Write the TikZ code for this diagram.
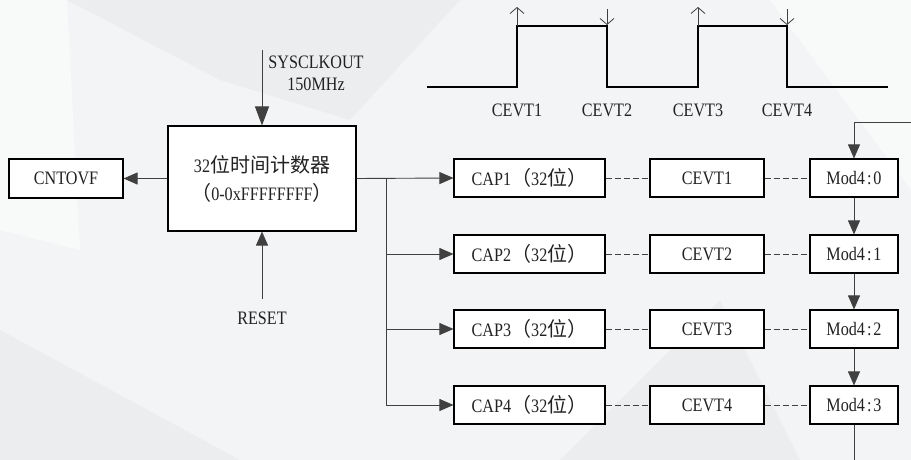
\documentclass[tikz,border=0pt]{standalone}
\usepackage{fontspec}
\setmainfont[FakeStretch=0.85]{Liberation Serif}
\newfontfamily\cjk{Noto Sans CJK SC}
\usetikzlibrary{arrows.meta}
\newcommand\zh[1]{{\cjk\fontsize{20}{27}\selectfont #1}}
\newcommand\mcol{\kern2pt:\kern2pt}
\definecolor{bgbase}{HTML}{F3F4F5}
\definecolor{bgdark}{HTML}{ECEDEF}
\definecolor{bglight}{HTML}{F8F9F9}
\definecolor{linec}{HTML}{404040}
\definecolor{txtc}{HTML}{222222}
\tikzset{
  box/.style={draw=black, line width=1.1pt, fill=white, minimum height=38pt, inner sep=0pt,
              font=\fontsize{19}{27}\selectfont, text=txtc},
  lbl/.style={inner sep=0pt, font=\fontsize{19}{22}\selectfont, text=txtc, align=center},
  conn/.style={draw=linec, line width=0.9pt},
  arr/.style={conn, -{Triangle[length=14pt,width=12pt]}},
  arrlong/.style={conn, -{Triangle[length=19pt,width=14pt]}},
  dsh/.style={conn, dash pattern=on 6pt off 3pt},
  edgearr/.style={draw=linec, line width=0.8pt, -{Straight Barb[length=6pt,width=14pt]}},
  wave/.style={draw=black, line width=1.8pt, line join=miter}
}
\begin{document}
\begin{tikzpicture}[x=1pt,y=-1pt]
\useasboundingbox (0,0) rectangle (911,460);
% background
\fill[bgbase] (0,0) rectangle (911,460);
\fill[bgdark] (67,0) -- (460,0) -- (350,120) -- (220,80) -- cycle;
\fill[bglight] (0,0) -- (67,0) -- (80,250) -- (0,230) -- cycle;
\fill[bglight] (770,0) -- (911,0) -- (911,190) -- cycle;
\fill[bgdark] (0,330) -- (240,460) -- (0,460) -- cycle;
\fill[bgdark] (560,460) -- (720,300) -- (800,460) -- cycle;

% boxes
\node[box, minimum width=114pt, minimum height=39pt] (cnt) at (66,178.5) {CNTOVF};
\node[box, minimum width=188pt, minimum height=105pt, align=center] (main) at (262,178.5)
  {32\zh{位时间计数器}\\[1pt]\zh{（}0-0xFFFFFFFF\zh{）}};

\foreach \i/\y in {1/178,2/254,3/329,4/405}{
  \node[box, minimum width=151pt] (cap\i) at (529.5,\y) {CAP\i\zh{（}32\zh{位）}};
  \node[box, minimum width=114pt] (cev\i) at (707,\y) {CEVT\i};
}
\node[box, minimum width=88pt] (mod1) at (854,178) {Mod4\mcol0};
\node[box, minimum width=88pt] (mod2) at (854,254) {Mod4\mcol1};
\node[box, minimum width=88pt] (mod3) at (854,329) {Mod4\mcol2};
\node[box, minimum width=88pt] (mod4) at (854,405) {Mod4\mcol3};

% dashed links
\foreach \i in {1,2,3,4}{
  \draw[dsh] (cap\i.east) -- (cev\i.west);
  \draw[dsh] (cev\i.east) -- (mod\i.west);
}

% counter connections
\draw[arr] (main.west) -- (cnt.east);
\coordinate (sy) at (262,50);
\coordinate (rs) at (262,299);
\draw[arrlong] (sy) -- (main.north);
\draw[arr] (rs) -- (main.south);
\node[lbl] (syl) at (316,73) {SYSCLKOUT\\150MHz};
\node[lbl] (rsl) at (262,318) {RESET};

\coordinate (bj) at (386,178.5);
\draw[arr] (main.east) -- (cap1.west);
\draw[conn] (bj) -- (bj |- cap4.west);
\draw[arr] (bj |- cap2.west) -- (cap2.west);
\draw[arr] (bj |- cap3.west) -- (cap3.west);
\draw[arr] (bj |- cap4.west) -- (cap4.west);

% mod chain
\coordinate (fb) at (911,122);
\coordinate (fe) at (854,460);
\draw[arr] (fb) -| (mod1.north);
\draw[arr] (mod1.south) -- (mod2.north);
\draw[arr] (mod2.south) -- (mod3.north);
\draw[arr] (mod3.south) -- (mod4.north);
\draw[conn] (mod4.south) -- (fe);

% waveform
\draw[wave] (427,87) -- (517,87) -- (517,26) -- (607,26) -- (607,87) -- (698,87) -- (698,26) -- (787,26) -- (787,87) -- (888,87);
\coordinate (e1a) at (517,26); \coordinate (e1b) at (517,7);
\coordinate (e2a) at (607,9);  \coordinate (e2b) at (607,25);
\coordinate (e3a) at (698,26); \coordinate (e3b) at (698,7);
\coordinate (e4a) at (787,9);  \coordinate (e4b) at (787,25);
\draw[edgearr] (e1a) -- (e1b);
\draw[edgearr] (e2a) -- (e2b);
\draw[edgearr] (e3a) -- (e3b);
\draw[edgearr] (e4a) -- (e4b);
\node[lbl] (w1) at (517,110) {CEVT1};
\node[lbl] (w2) at (607,110) {CEVT2};
\node[lbl] (w3) at (698,110) {CEVT3};
\node[lbl] (w4) at (787,110) {CEVT4};
\end{tikzpicture}
\end{document}
